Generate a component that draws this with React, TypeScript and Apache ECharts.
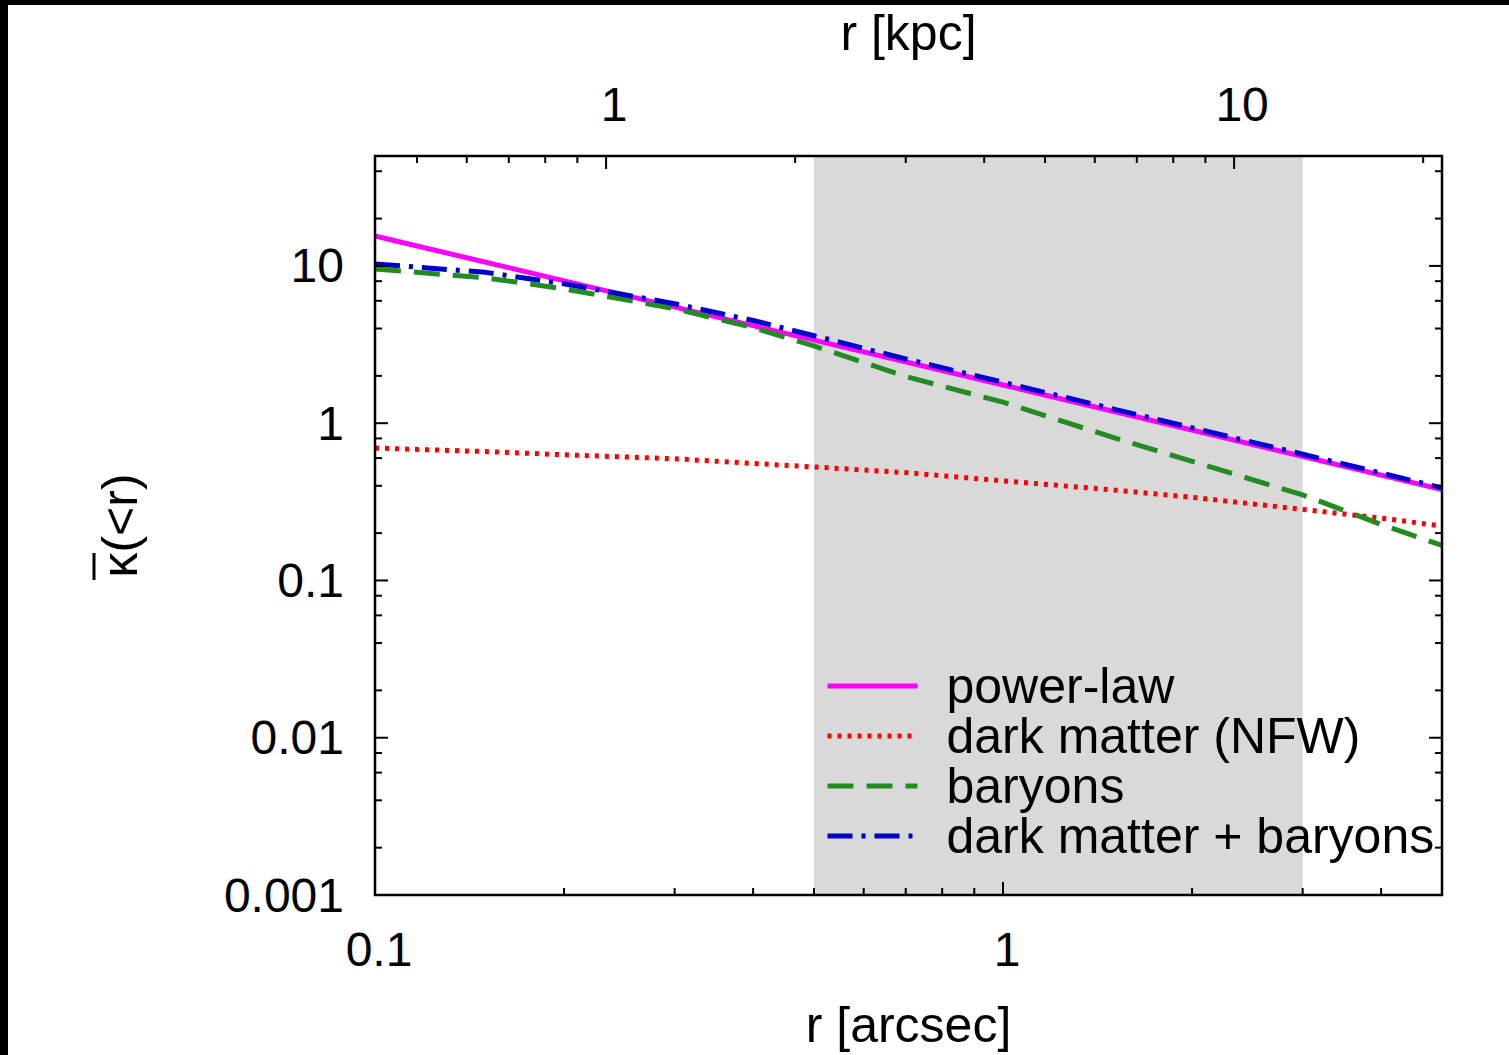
import React, { useEffect, useRef } from "react";
import * as echarts from "echarts";

// ---- data ----
const KPC_PER_ARCSEC = 4.286;
const X_MIN = 0.1;
const X_MAX = 5;
const Y_MIN = 0.001;
const Y_MAX = 50;
const SHADE_RANGE = [0.5, 3];

const powerLawR = [0.1, 1, 5];
const powerLawK = [15.5, 1.75, 0.378];

const radii = [0.1, 0.15, 0.2, 0.3, 0.4, 0.5, 0.7, 1, 1.5, 2, 3, 4, 5];
const nfwK = [0.695, 0.66, 0.63, 0.594, 0.555, 0.527, 0.485, 0.43, 0.376, 0.338, 0.283, 0.249, 0.222];
const baryonK = [9.57, 8.4, 7.15, 5.35, 4.05, 3.1, 1.98, 1.36, 0.81, 0.572, 0.35, 0.227, 0.167];
const totalK = [10.3, 9.1, 7.7, 5.75, 4.5, 3.6, 2.56, 1.82, 1.23, 0.935, 0.635, 0.482, 0.388];

const bottomMajor = [0.1, 1];
const bottomMinor = [0.2, 0.3, 0.4, 0.5, 0.6, 0.7, 0.8, 0.9, 2, 3, 4];
const topMajorKpc = [1, 10];
const topMinorKpc = [0.5, 0.6, 0.7, 0.8, 0.9, 2, 3, 4, 5, 6, 7, 8, 9, 20];
const yMajor = [0.001, 0.01, 0.1, 1, 10];
const yMinor = [
  0.002, 0.004, 0.006, 0.008, 0.02, 0.04, 0.06, 0.08, 0.2, 0.4, 0.6, 0.8, 2, 4, 6, 8, 20, 40,
];

const seriesNames = ["power-law", "dark matter (NFW)", "baryons", "dark matter + baryons"];
const seriesColors = ["#ff00ff", "#ff0000", "#228b22", "#0000cc"];

const FONT = "Liberation Sans";

type Tick = { kind: string; v: number; major: boolean };

function fmtLabel(v: number): string {
  const e = Math.log10(v);
  const r = Math.round(e);
  if (Math.abs(e - r) > 1e-6) return "";
  if (r >= 0) return String(Math.round(Math.pow(10, r)));
  return Math.pow(10, r).toFixed(-r);
}

export default function App() {
  const ref = useRef<HTMLDivElement>(null);

  useEffect(() => {
    document.body.style.margin = "0";
    if (!ref.current) return;
    const chart = echarts.init(ref.current, undefined, { renderer: "svg" });

    const ticks: Tick[] = [
      { kind: "box", v: 1, major: true },
      ...bottomMajor.map((v) => ({ kind: "bottom", v, major: true })),
      ...bottomMinor.map((v) => ({ kind: "bottom", v, major: false })),
      ...topMajorKpc.map((v) => ({ kind: "top", v, major: true })),
      ...topMinorKpc.map((v) => ({ kind: "top", v, major: false })),
      ...yMajor.map((v) => ({ kind: "left", v, major: true })),
      ...yMinor.map((v) => ({ kind: "left", v, major: false })),
      ...yMajor.map((v) => ({ kind: "right", v, major: true })),
      ...yMinor.map((v) => ({ kind: "right", v, major: false })),
    ];
    const tickData = ticks.map((t) => {
      if (t.kind === "left" || t.kind === "right") return [1, t.v];
      if (t.kind === "top") return [t.v / KPC_PER_ARCSEC, 1];
      return [t.v, 1];
    });

    const pair = (xs: number[], ys: number[]) => xs.map((x, i) => [x, ys[i]]);

    const lineSeries = (name: string, color: string, data: number[][], type: any) => ({
      name,
      type: "line",
      data,
      symbol: "none",
      smooth: false,
      z: 3,
      lineStyle: { color, width: 5, type, cap: "butt", join: "round" },
      itemStyle: { color },
    });

    const axisLabelStyle = {
      fontSize: 48,
      fontFamily: FONT,
      color: "#000",
      lineHeight: 48,
      formatter: fmtLabel,
    };

    chart.setOption({
      animation: false,
      backgroundColor: "#fff",
      grid: { left: 375, top: 156, width: 1067, height: 743, containLabel: false },
      xAxis: [
        {
          type: "log",
          logBase: 10,
          min: X_MIN,
          max: X_MAX,
          position: "bottom",
          name: "r [arcsec]",
          nameLocation: "middle",
          nameGap: 105,
          nameTextStyle: { fontSize: 50, fontFamily: FONT, color: "#000", lineHeight: 50 },
          axisLine: { show: false },
          axisTick: { show: false },
          splitLine: { show: false },
          minorTick: { show: false },
          axisLabel: { ...axisLabelStyle, margin: 30, padding: [0, 0, 0, 8] },
        },
        {
          type: "log",
          logBase: 10,
          min: X_MIN * KPC_PER_ARCSEC,
          max: X_MAX * KPC_PER_ARCSEC,
          position: "top",
          name: "r [kpc]",
          nameLocation: "middle",
          nameGap: 98,
          nameTextStyle: { fontSize: 50, fontFamily: FONT, color: "#000", lineHeight: 50 },
          axisLine: { show: false },
          axisTick: { show: false },
          splitLine: { show: false },
          axisLabel: { ...axisLabelStyle, margin: 28, padding: [0, 0, 0, 16] },
        },
      ],
      yAxis: [
        {
          type: "log",
          logBase: 10,
          min: Y_MIN,
          max: Y_MAX,
          name: "κ(<r)",
          nameLocation: "middle",
          nameRotate: 90,
          nameGap: 230,
          nameTextStyle: { fontSize: 50, fontFamily: FONT, color: "#000", lineHeight: 50 },
          axisLine: { show: false },
          axisTick: { show: false },
          splitLine: { show: false },
          axisLabel: { ...axisLabelStyle, margin: 31 },
        },
      ],
      legend: {
        orient: "vertical",
        left: 825,
        top: 661,
        padding: 0,
        itemWidth: 90,
        itemHeight: 14,
        itemGap: 0,
        data: seriesNames,
        itemStyle: { opacity: 0 },
        lineStyle: { width: 5 },
        textStyle: {
          fontSize: 50,
          fontFamily: FONT,
          color: "#000",
          lineHeight: 50,
          padding: [0, 0, 0, 24],
        },
        z: 20,
      },
      graphic: [
        { type: "rect", left: 0, top: 0, shape: { width: 8, height: 1055 }, style: { fill: "#000" }, z: 100 },
        { type: "rect", left: 0, top: 0, shape: { width: 1509, height: 5 }, style: { fill: "#000" }, z: 100 },
        {
          type: "line",
          shape: { x1: 94, y1: 553, x2: 94, y2: 580 },
          style: { stroke: "#000", lineWidth: 3 },
          z: 100,
        },
      ],
      series: [
        {
          name: "shade",
          type: "custom",
          z: 1,
          silent: true,
          data: [[SHADE_RANGE[0], SHADE_RANGE[1]]],
          renderItem: (params: any, api: any) => {
            const cs = params.coordSys;
            const x0 = api.coord([api.value(0), 1])[0];
            const x1 = api.coord([api.value(1), 1])[0];
            return {
              type: "rect",
              shape: { x: x0, y: cs.y, width: x1 - x0, height: cs.height },
              style: { fill: "#d9d9d9" },
            };
          },
        },
        lineSeries(seriesNames[0], seriesColors[0], pair(powerLawR, powerLawK), "solid"),
        lineSeries(seriesNames[1], seriesColors[1], pair(radii, nfwK), [4, 6]),
        lineSeries(seriesNames[2], seriesColors[2], pair(radii, baryonK), [26, 13]),
        lineSeries(seriesNames[3], seriesColors[3], pair(radii, totalK), [25, 9, 4, 9]),
        {
          name: "ticks",
          type: "custom",
          z: 10,
          silent: true,
          data: tickData,
          renderItem: (params: any, api: any) => {
            const t = ticks[params.dataIndex];
            const cs = params.coordSys;
            const style = { stroke: "#000", lineWidth: 2 };
            const len = t.major ? 13 : 7;
            const bottom = cs.y + cs.height;
            const right = cs.x + cs.width;
            if (t.kind === "box") {
              return {
                type: "rect",
                shape: { x: cs.x, y: cs.y, width: cs.width, height: cs.height },
                style: { fill: "none", stroke: "#000", lineWidth: 2.5 },
              };
            }
            if (t.kind === "bottom" || t.kind === "top") {
              const px = api.coord([api.value(0), 1])[0];
              if (t.kind === "bottom") {
                return { type: "line", shape: { x1: px, y1: bottom, x2: px, y2: bottom - len }, style };
              }
              return { type: "line", shape: { x1: px, y1: cs.y, x2: px, y2: cs.y + len }, style };
            }
            const py = api.coord([1, api.value(1)])[1];
            if (t.kind === "left") {
              return { type: "line", shape: { x1: cs.x, y1: py, x2: cs.x + len, y2: py }, style };
            }
            return { type: "line", shape: { x1: right, y1: py, x2: right - len, y2: py }, style };
          },
        },
      ],
    });

    return () => chart.dispose();
  }, []);

  return <div ref={ref} style={{ width: 1509, height: 1055 }} />;
}
